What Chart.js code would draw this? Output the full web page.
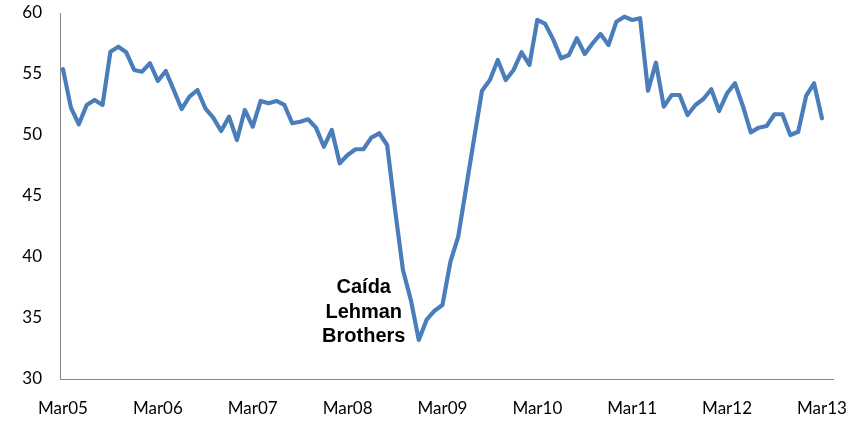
<!DOCTYPE html>
<html>
<head>
<meta charset="utf-8">
<script src="https://cdn.jsdelivr.net/npm/chart.js@4"></script>
<style>
  html, body { margin: 0; padding: 0; background: #ffffff; }
  #wrap { width: 864px; height: 421px; position: relative; }
</style>
</head>
<body>
<div id="wrap"><canvas id="c" width="864" height="421"></canvas></div>
<script>
// Monthly index values, Mar05 .. Mar13
const values = [
  55.4, 52.24, 50.88, 52.46, 52.87, 52.46, 56.83, 57.24, 56.78, 55.33, 55.19, 55.88,
  54.43, 55.25, 53.7, 52.13, 53.14, 53.69, 52.19, 51.42, 50.33, 51.5, 49.59, 52.05,
  50.68, 52.79, 52.6, 52.79, 52.46, 50.96, 51.09, 51.29, 50.6, 49.04, 50.41, 47.68,
  48.36, 48.83, 48.83, 49.78, 50.14, 49.18, 43.9, 38.93, 36.48, 33.2, 34.86, 35.6,
  36.07, 39.6, 41.7, 45.7, 49.7, 53.63, 54.51, 56.15, 54.51, 55.33, 56.78, 55.74,
  59.43, 59.1, 57.84, 56.29, 56.56, 57.93, 56.64, 57.52, 58.28, 57.38, 59.29, 59.7,
  59.43, 59.57, 53.63, 55.93, 52.32, 53.28, 53.28, 51.64, 52.46, 52.95, 53.75, 51.97,
  53.42, 54.24, 52.38, 50.22, 50.6, 50.74, 51.7, 51.7, 50.0, 50.27, 53.2, 54.24,
  51.37
];
// Axis labels, one per year (every 12 months)
const tickLabels = ['Mar05', 'Mar06', 'Mar07', 'Mar08', 'Mar09', 'Mar10', 'Mar11', 'Mar12', 'Mar13'];
const yTicks = [30, 35, 40, 45, 50, 55, 60];
// Annotation
const annotationLines = ['Caída', 'Lehman', 'Brothers'];
const annotationIndex = 45; // month of the trough

const points = values.map((v, i) => ({ x: i, y: v }));

const annotationPlugin = {
  id: 'lehman',
  afterDatasetsDraw(chart) {
    const { ctx, scales } = chart;
    const px = scales.x.getPixelForValue(annotationIndex);
    const py = scales.y.getPixelForValue(values[annotationIndex]);
    ctx.save();
    ctx.font = 'bold 20px "Liberation Sans", Arial, sans-serif';
    ctx.fillStyle = '#000000';
    ctx.textAlign = 'center';
    ctx.textBaseline = 'middle';
    const cx = px - 55;
    const lh = 24.5;
    const last = py - 3;
    annotationLines.forEach((t, i) => {
      ctx.fillText(t, cx, last - (annotationLines.length - 1 - i) * lh);
    });
    ctx.restore();
  }
};

new Chart(document.getElementById('c'), {
  type: 'line',
  data: {
    datasets: [{
      data: points,
      borderColor: '#4A7EBB',
      borderWidth: 4.2,
      pointRadius: 0,
      pointHoverRadius: 0,
      tension: 0,
      fill: false,
      borderJoinStyle: 'round',
      borderCapStyle: 'round'
    }]
  },
  options: {
    responsive: false,
    animation: false,
    devicePixelRatio: 1,
    layout: { padding: { top: 13, right: 31, left: 0, bottom: 0 } },
    plugins: { legend: { display: false }, tooltip: { enabled: false } },
    scales: {
      x: {
        type: 'linear',
        min: -0.38,
        max: 97.4,
        afterBuildTicks(scale) {
          scale.ticks = tickLabels.map((_, i) => ({ value: i * 12 }));
        },
        afterFit(scale) { scale.height = 42; scale.paddingLeft = 0; scale.paddingRight = 0; },
        grid: { display: true, drawOnChartArea: false, drawTicks: false },
        border: { display: true, color: '#868686', width: 1 },
        ticks: {
          autoSkip: false,
          maxRotation: 0,
          padding: 19,
          color: '#000000',
          font: { family: 'Lato, "Open Sans", sans-serif', size: 17 },
          callback: (v) => tickLabels[Math.round(v / 12)]
        }
      },
      y: {
        min: 30,
        max: 60,
        afterBuildTicks(scale) {
          scale.ticks = yTicks.map(v => ({ value: v }));
        },
        afterFit(scale) { scale.width = 60; scale.paddingTop = 0; scale.paddingBottom = 0; },
        grid: { display: true, drawOnChartArea: false, drawTicks: false },
        border: { display: true, color: '#868686', width: 1 },
        ticks: {
          padding: 18,
          color: '#000000',
          font: { family: 'Lato, "Open Sans", sans-serif', size: 17 }
        }
      }
    }
  },
  plugins: [annotationPlugin]
});
</script>
</body>
</html>
